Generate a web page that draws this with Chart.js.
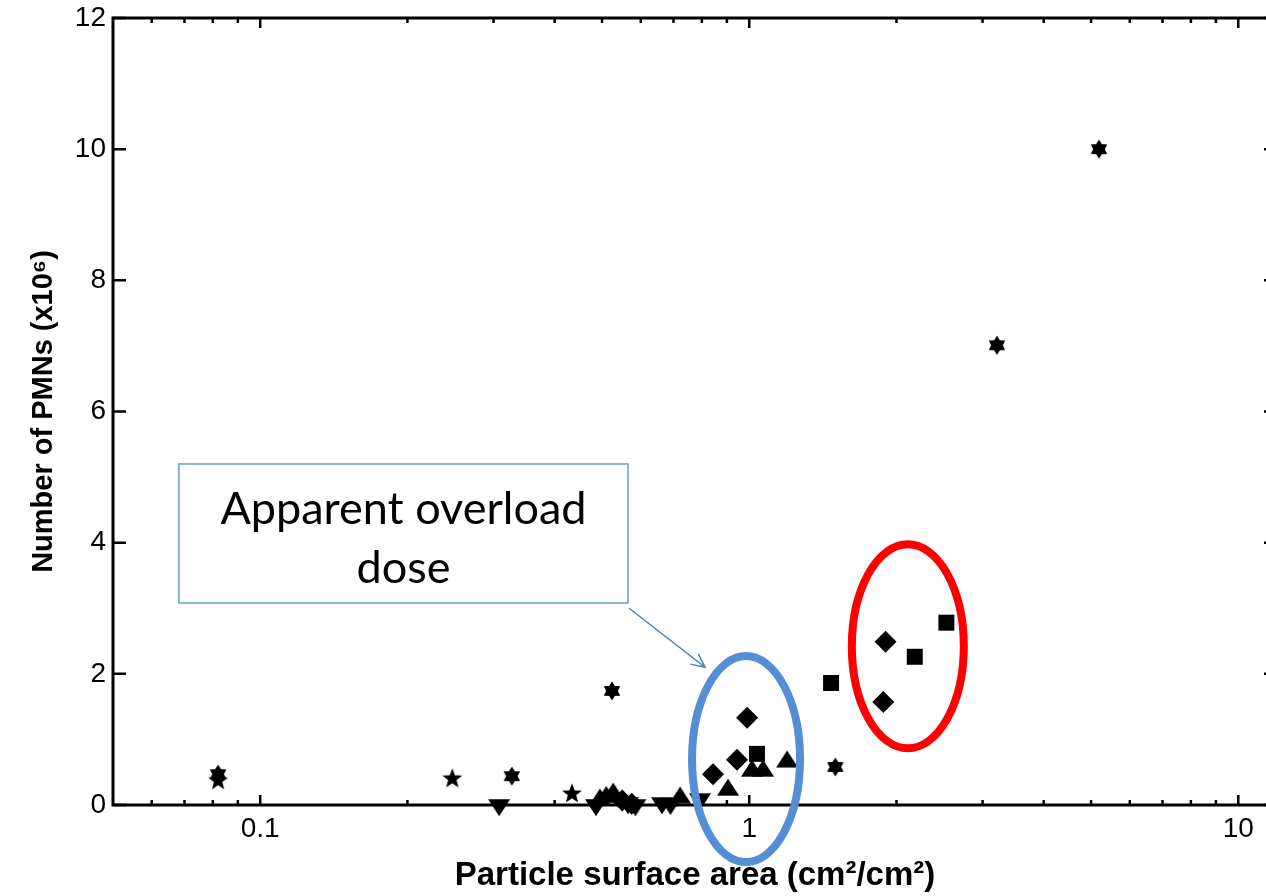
<!DOCTYPE html>
<html>
<head>
<meta charset="utf-8">
<script src="https://cdn.jsdelivr.net/npm/chart.js@4.4.1/dist/chart.umd.min.js"></script>
<style>
  html, body { margin: 0; padding: 0; background: #fff; overflow: hidden; }
  canvas { display: block; }
</style>
</head>
<body>
<canvas id="c" width="1300" height="896"></canvas>
<script>
// x = particle surface area (cm2/cm2), y = number of PMNs (x10^6)
const hexagramX = [0.082, 0.327, 0.524, 1.50, 3.21, 5.19];
const hexagramY = [0.47, 0.44, 1.74, 0.58, 7.01, 10.0];
const pentagramX = [0.082, 0.247, 0.434];
const pentagramY = [0.37, 0.40, 0.17];
const triUpX = [0.495, 0.51, 0.527, 0.722, 0.905, 1.013, 1.067, 1.195];
const triUpY = [0.08, 0.12, 0.17, 0.11, 0.23, 0.52, 0.52, 0.66];
const triDownX = [0.308, 0.486, 0.565, 0.585, 0.663, 0.69, 0.793];
const triDownY = [0.0, 0.0, 0.03, 0.0, 0.03, 0.02, 0.09];
const diamondX = [0.55, 0.575, 0.843, 0.944, 0.99, 1.88, 1.90];
const diamondY = [0.07, 0.02, 0.47, 0.69, 1.33, 1.57, 2.49];
const squareX = [1.037, 1.47, 2.18, 2.53];
const squareY = [0.78, 1.86, 2.26, 2.78];

const xMajorTicks = [0.1, 1, 10];
const xMinorTicks = [0.06, 0.07, 0.08, 0.09, 0.2, 0.3, 0.4, 0.5, 0.6, 0.7, 0.8, 0.9, 2, 3, 4, 5, 6, 7, 8, 9];
const yTicks = [0, 2, 4, 6, 8, 10, 12];

// annotations, placed in data units
const noteBox = { x1: 0.0682, x2: 0.565, yTop: 5.20, yBottom: 3.08 };
const noteLines = ['Apparent overload', 'dose'];
const noteArrow = { x1: 0.568, y1: 3.00, x2: 0.812, y2: 2.10 };
const blueRing = { x: 0.985, y: 0.70 };
const redRing = { x: 2.11, y: 2.42 };

function pts(xs, ys) {
  return xs.map((v, i) => ({ x: v, y: ys[i] }));
}

// little canvases used as marker images (MATLAB style markers)
function marker(size, path) {
  const c = document.createElement('canvas');
  c.width = size; c.height = size;
  const g = c.getContext('2d');
  g.translate(size / 2, size / 2);
  g.fillStyle = '#000';
  g.beginPath();
  path(g);
  g.closePath();
  g.fill();
  return c;
}
function star(n, outer, inner) {
  return g => {
    for (let i = 0; i < n * 2; i++) {
      const r = i % 2 ? inner : outer;
      const a = -Math.PI / 2 + i * Math.PI / n;
      g.lineTo(r * Math.cos(a), r * Math.sin(a));
    }
  };
}
const hexImg = marker(22, star(6, 9.5, 5.8));
const pentImg = marker(24, star(5, 10.5, 4.4));
const upImg = marker(26, g => { g.moveTo(0, -11.3); g.lineTo(11, 5.7); g.lineTo(-11, 5.7); });
const downImg = marker(26, g => { g.moveTo(0, 11.3); g.lineTo(11, -5.7); g.lineTo(-11, -5.7); });

const family = 'Liberation Sans, Arial, sans-serif';
const axisFont = { family: family, size: 28, lineHeight: 1 };

// MATLAB like box with inward ticks
const frame = {
  id: 'frame',
  beforeDatasetsDraw(chart) {
    const { ctx, chartArea: a, scales: { x, y } } = chart;
    ctx.save();
    ctx.strokeStyle = '#000';
    ctx.lineWidth = 3;
    ctx.strokeRect(a.left, a.top, a.right - a.left, a.bottom - a.top);
    ctx.lineWidth = 2.5;
    ctx.beginPath();
    const xt = (v, len) => {
      const px = x.getPixelForValue(v);
      ctx.moveTo(px, a.bottom); ctx.lineTo(px, a.bottom - len);
      ctx.moveTo(px, a.top); ctx.lineTo(px, a.top + len);
    };
    xMajorTicks.forEach(v => xt(v, 10));
    xMinorTicks.forEach(v => xt(v, 5));
    yTicks.forEach(v => {
      const py = y.getPixelForValue(v);
      ctx.moveTo(a.left, py); ctx.lineTo(a.left + 13, py);
      ctx.moveTo(a.right, py); ctx.lineTo(a.right - 13, py);
    });
    ctx.stroke();
    ctx.restore();
  }
};

function ring(ctx, cx, cy, rx, ry, color) {
  ctx.beginPath();
  ctx.ellipse(cx, cy, rx, ry, 0, 0, Math.PI * 2);
  ctx.strokeStyle = color;
  ctx.lineWidth = 8;
  ctx.stroke();
}

const notes = {
  id: 'notes',
  afterDatasetsDraw(chart) {
    const { ctx, scales: { x, y } } = chart;
    ctx.save();
    ring(ctx, x.getPixelForValue(blueRing.x), y.getPixelForValue(blueRing.y), 54, 103, '#558ed5');
    ring(ctx, x.getPixelForValue(redRing.x), y.getPixelForValue(redRing.y), 56, 102, '#ff0000');

    const bx1 = x.getPixelForValue(noteBox.x1), bx2 = x.getPixelForValue(noteBox.x2);
    const by1 = y.getPixelForValue(noteBox.yTop), by2 = y.getPixelForValue(noteBox.yBottom);
    ctx.fillStyle = '#fff';
    ctx.fillRect(bx1, by1, bx2 - bx1, by2 - by1);
    ctx.strokeStyle = '#6a9bd6';
    ctx.lineWidth = 1.5;
    ctx.strokeRect(bx1, by1, bx2 - bx1, by2 - by1);
    ctx.fillStyle = '#000';
    ctx.font = '45px Lato, "Open Sans", sans-serif';
    ctx.textAlign = 'center';
    ctx.textBaseline = 'alphabetic';
    const cx = (bx1 + bx2) / 2;
    ctx.fillText(noteLines[0], cx, by1 + 60);
    ctx.fillText(noteLines[1], cx, by1 + 119);

    // arrow
    const ax1 = x.getPixelForValue(noteArrow.x1), ay1 = y.getPixelForValue(noteArrow.y1);
    const ax2 = x.getPixelForValue(noteArrow.x2), ay2 = y.getPixelForValue(noteArrow.y2);
    const ang = Math.atan2(ay2 - ay1, ax2 - ax1);
    ctx.strokeStyle = '#4a7ebb';
    ctx.lineWidth = 1.5;
    ctx.beginPath();
    ctx.moveTo(ax1, ay1); ctx.lineTo(ax2, ay2);
    ctx.moveTo(ax2 - 15 * Math.cos(ang - 0.45), ay2 - 15 * Math.sin(ang - 0.45));
    ctx.lineTo(ax2, ay2);
    ctx.lineTo(ax2 - 15 * Math.cos(ang + 0.45), ay2 - 15 * Math.sin(ang + 0.45));
    ctx.stroke();
    ctx.restore();
  }
};

const black = '#000';
new Chart(document.getElementById('c'), {
  type: 'scatter',
  data: {
    datasets: [
      { label: 'v', data: pts(triDownX, triDownY), pointStyle: downImg, pointRadius: 10 },
      { label: '^', data: pts(triUpX, triUpY), pointStyle: upImg, pointRadius: 10 },
      { label: 'd', data: pts(diamondX, diamondY), pointStyle: 'rectRot', pointRadius: 11, backgroundColor: black, borderWidth: 0 },
      { label: 's', data: pts(squareX, squareY), pointStyle: 'rect', pointRadius: 11.3, backgroundColor: black, borderWidth: 0 },
      { label: 'p', data: pts(pentagramX, pentagramY), pointStyle: pentImg, pointRadius: 10 },
      { label: 'h', data: pts(hexagramX, hexagramY), pointStyle: hexImg, pointRadius: 10 }
    ]
  },
  options: {
    responsive: false,
    animation: false,
    devicePixelRatio: 1,
    clip: false,
    layout: { padding: { top: 18, right: 23, left: 0, bottom: 0 } },
    plugins: { legend: { display: false }, tooltip: { enabled: false } },
    scales: {
      x: {
        type: 'logarithmic',
        min: 0.05,
        max: 12,
        afterBuildTicks: s => { s.ticks = xMajorTicks.map(v => ({ value: v })); },
        afterFit: s => { s.height = 91; s.paddingLeft = 0; s.paddingRight = 0; },
        grid: { display: false, drawTicks: false },
        border: { display: false },
        ticks: { callback: v => String(v), autoSkip: false, maxRotation: 0, padding: 10, color: '#000', font: axisFont },
        title: {
          display: true,
          text: 'Particle surface area (cm\u00b2/cm\u00b2)',
          color: '#000',
          font: { family: family, size: 33, weight: 'bold' },
          padding: { top: 0, bottom: 0 }
        }
      },
      y: {
        min: 0,
        max: 12,
        afterBuildTicks: s => { s.ticks = yTicks.map(v => ({ value: v })); },
        afterFit: s => { s.width = 113; s.paddingTop = 0; s.paddingBottom = 0; },
        grid: { display: false, drawTicks: false },
        border: { display: false },
        ticks: { padding: 7, color: '#000', font: axisFont },
        title: {
          display: true,
          text: 'Number of PMNs (x10\u2076)',
          color: '#000',
          font: { family: family, size: 29, weight: 'bold' },
          padding: { top: 27, bottom: 0 }
        }
      }
    }
  },
  plugins: [frame, notes]
});
</script>
</body>
</html>
